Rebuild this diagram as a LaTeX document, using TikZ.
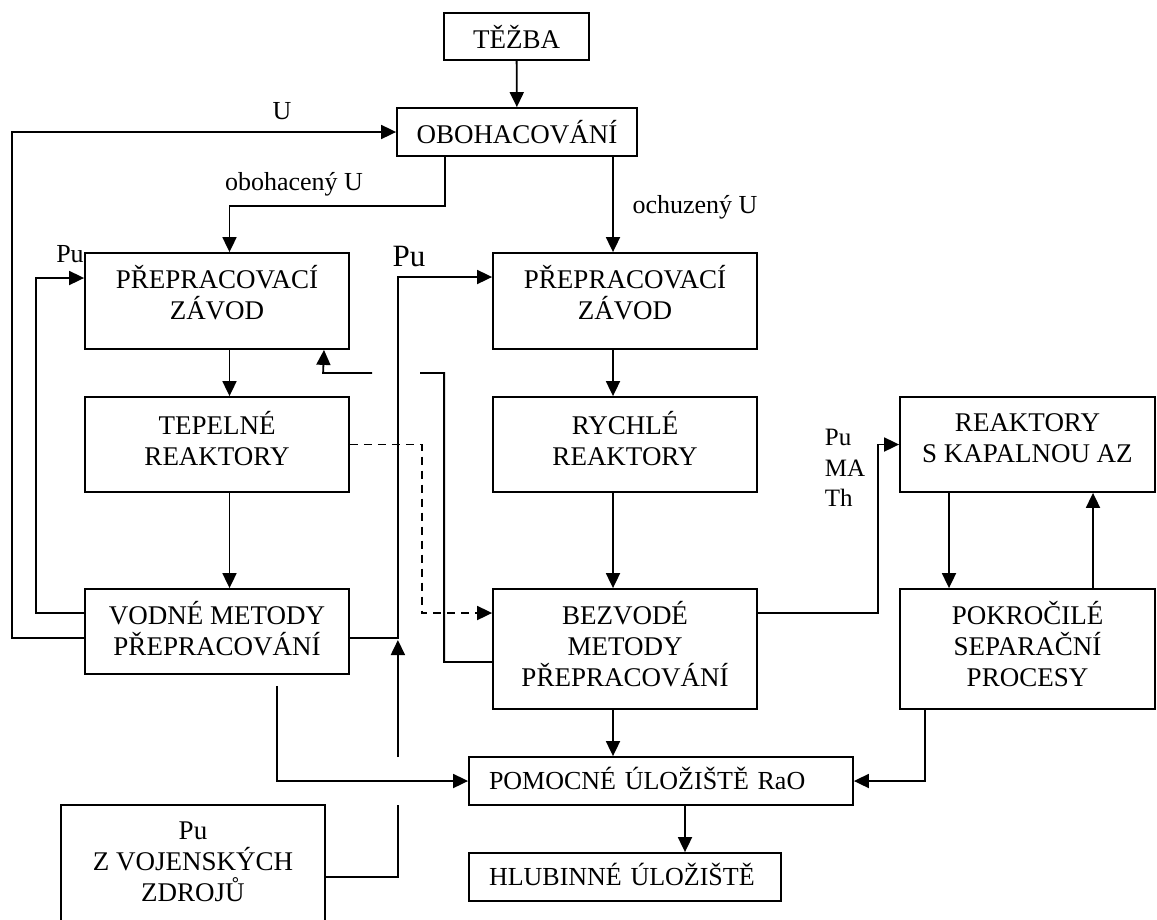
\documentclass[tikz,border=0pt]{standalone}
\usepackage{fontspec}
\setmainfont{Liberation Serif}
\usetikzlibrary{positioning,arrows.meta}

\begin{document}
\begin{tikzpicture}[x=1pt, y=-1pt,
    process/.style={draw, line width=1.8pt, minimum width=264pt, minimum height=96pt, inner sep=0pt, align=center, text depth=12pt, font=\fontsize{27}{31}\selectfont},
    store/.style={process, align=left, inner xsep=20pt, minimum height=48pt, text depth=6pt, font=\fontsize{26}{31}\selectfont},
    relation/.style={-{Triangle[length=15pt,width=14pt]}, line width=1.8pt},
    flowlabel/.style={font=\fontsize{26}{30}\selectfont, inner sep=0pt}
]
\clip (0,0) rectangle (1157,919);

% Boxes
\node[process, minimum width=145pt, minimum height=47pt, text depth=0pt] (tezba) at (516.5,36.5) {TĚŽBA};
\node[process, minimum width=240pt, minimum height=48pt, text depth=0pt] (obohacovani) at (517,132) {OBOHACOVÁNÍ};
\node[process, text depth=18pt] (prepracL) at (217,301) {PŘEPRACOVACÍ\\ZÁVOD};
\node[process, text depth=18pt] (prepracR) at (625,301) {PŘEPRACOVACÍ\\ZÁVOD};
\node[process, minimum height=95pt] (tepelne) at (217,444.5) {TEPELNÉ\\REAKTORY};
\node[process, minimum height=95pt] (rychle) at (625,444.5) {RYCHLÉ\\REAKTORY};
\node[process, minimum width=255pt, minimum height=95pt] (kapalna) at (1027.5,444.5) {REAKTORY\\S KAPALNOU AZ};
\node[process, minimum height=85pt, text depth=6pt] (vodne) at (217,631.5) {VODNÉ METODY\\PŘEPRACOVÁNÍ};
\node[process, minimum height=120pt, text depth=10pt] (bezvode) at (625,649) {BEZVODÉ\\METODY\\PŘEPRACOVÁNÍ};
\node[process, minimum width=255pt, minimum height=120pt, text depth=10pt] (pokrocile) at (1027.5,649) {POKROČILÉ\\SEPARAČNÍ\\PROCESY};
\node[store, text width=344pt] (pomocne) at (661,781) {POMOCNÉ ÚLOŽIŠTĚ RaO};
\node[store, text width=272pt] (hlubinne) at (625,877) {HLUBINNÉ ÚLOŽIŠTĚ};
\node[process, minimum height=116pt, text depth=2pt] (vojenske) at (193,863) {Pu\\Z VOJENSKÝCH\\ZDROJŮ};

% Labels
\node[flowlabel] (lblU) at (282,111) {U};
\node[flowlabel] (lblObohU) at (294,184) {obohacený U};
\node[flowlabel] (lblOchuzU) at (695,207) {ochuzený U};
\node[flowlabel] (lblPuL) at (70,254) {Pu};
\node[flowlabel, font=\fontsize{31}{31}\selectfont] (lblPuM) at (409,256) {Pu};
\node[flowlabel, align=left, font=\fontsize{25}{30.5}\selectfont] (lblPuMATh) at (845,468) {Pu\\MA\\Th};

% Main flow
\draw[relation] (tezba) -- (obohacovani);
\draw[relation] ([xshift=-72pt]obohacovani.south) -- ++(0,49) -| ([xshift=12.5pt]prepracL.north);
\draw[relation] ([xshift=96pt]obohacovani.south) -- ([xshift=-12pt]prepracR.north);
\draw[relation] ([xshift=12.5pt]prepracL.south) -- ([xshift=12.5pt]tepelne.north);
\draw[relation] ([xshift=12.5pt]tepelne.south) -- ([xshift=12.5pt]vodne.north);
\draw[relation] ([xshift=-12pt]prepracR.south) -- ([xshift=-12pt]rychle.north);
\draw[relation] ([xshift=-12pt]rychle.south) -- ([xshift=-12pt]bezvode.north);
\draw[relation] ([xshift=-12pt]bezvode.south) -- ([xshift=-12pt]bezvode.south |- pomocne.north);
\draw[relation] ([xshift=24pt]pomocne.south) -- ([xshift=24pt]pomocne.south |- hlubinne.north);

% Recycling loops
\draw[relation] ([yshift=-6.5pt]vodne.west) -- ++(-72,0) |- (obohacovani.west);
\draw[relation] ([yshift=18.5pt]vodne.west) -- ++(-48,0) |- ([yshift=23pt]prepracL.west);
\draw[relation, dash pattern=on 8pt off 6pt] (tepelne.east) -- ++(72,0) |- ([yshift=36pt]bezvode.west);
\draw[relation] ([yshift=-13pt]bezvode.west) -- ++(-48,0) -- ++(0,-289) -- ++(-24,0) ++(-48,0) -- ++(-49,0) -- ([xshift=107pt]prepracL.south);
\draw[relation] ([yshift=-6.5pt]vodne.east) -- ++(48,0) |- ([yshift=24pt]prepracR.west);
\draw[relation] ([yshift=-14pt]vojenske.east) -- ++(72,0) -- ++(0,-72) ++(0,-48) -- ++(0,-117);

% Waste
\draw[relation] ([xshift=60pt,yshift=-11pt]vodne.south) |- (pomocne.west);
\draw[relation] ([xshift=-102.5pt]pokrocile.south) |- (pomocne.east);

% Advanced cycle
\draw[relation] ([yshift=36pt]bezvode.east) -- ++(120,0) |- (kapalna.west);
\draw[relation] ([xshift=-78.5pt]kapalna.south) -- ([xshift=-78.5pt]pokrocile.north);
\draw[relation] ([xshift=65.5pt]pokrocile.north) -- ([xshift=65.5pt]kapalna.south);

\end{tikzpicture}
\end{document}
